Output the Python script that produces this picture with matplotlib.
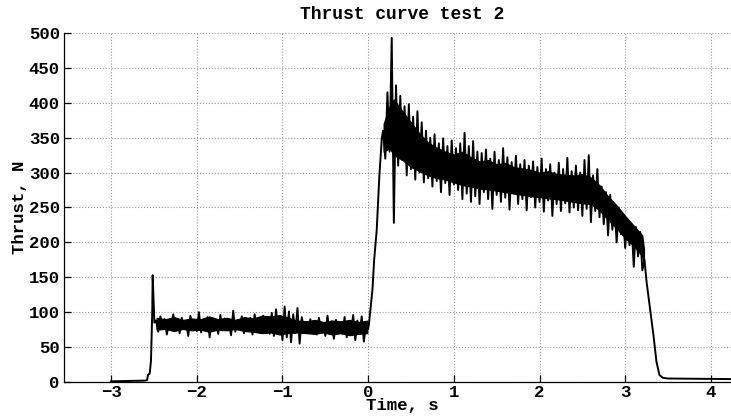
import numpy as np
import matplotlib
matplotlib.use("Agg")
import matplotlib.pyplot as plt

# ---- data ----
# pre-ignition and igniter spike
t_pre = [-3.0, -2.6, -2.58, -2.57, -2.55, -2.535, -2.52, -2.515, -2.505, -2.495]
f_pre = [1, 2, 3, 10, 12, 30, 100, 153, 120, 85]

# igniter phase (samples from -2.475 s to 0.0 s)
f_ign = [88, 72, 94, 76, 90, 68, 86, 79, 97, 74, 89, 70, 92, 77, 85, 66, 95, 78, 88, 73,
         100, 71, 87, 75, 93, 64, 90, 80, 86, 69, 96, 74, 91, 77, 84, 67, 102, 72, 89, 76,
         94, 70, 88, 79, 92, 68, 97, 75,
         90, 71, 95, 74, 86, 69, 99, 66, 104, 72, 92, 60, 108, 64, 101, 57, 97, 70, 106, 55, 93,
         78, 86, 70, 90, 73, 84, 68, 92, 75, 83, 66, 95, 71, 87, 62, 89, 74, 82, 69, 93,
         64, 86, 72, 96, 60, 88, 70, 94, 58, 83, 76]
t_ign_start, t_ign_end = -2.475, 0.0

# dense noise core of the igniter phase (upper / lower edge)
ign_core_top = [92, 90, 93, 89, 91, 90, 94, 90, 92, 89, 93, 91, 95, 94, 96, 92, 88, 87, 89, 86, 88, 87, 89, 86, 88]
ign_core_bot = [75, 76, 73, 76, 74, 75, 72, 75, 74, 76, 73, 72, 70, 71, 68, 70, 71, 70, 69, 71, 68, 70, 67, 69, 70]
t_ign_core_start, t_ign_core_end = -2.47, -0.01

# motor ignition rise
t_rise = [0.01, 0.05, 0.07, 0.10, 0.13, 0.16]
f_rise = [84, 132, 175, 218, 294, 350]

# main burn (samples from 0.175 s to 3.2 s)
f_burn = [360, 320, 415, 330, 493, 228, 425, 310, 410, 318,
          395, 296, 398, 305, 380, 290, 388, 300, 372, 286,
          360, 292, 350, 280, 355, 288, 342, 272, 349, 285,
          338, 268, 346, 283, 335, 275, 342, 262, 357, 270,
          338, 258, 345, 266, 330, 255, 328, 272, 333, 262,
          320, 248, 330, 268, 318, 258, 335, 264, 322, 247,
          315, 270, 324, 255, 312, 262, 318, 246, 310, 265,
          316, 250, 308, 258, 320, 244, 305, 260, 312, 238,
          300, 255, 314, 245, 305, 256, 321, 243, 302, 250,
          310, 246, 300, 238, 318, 248, 325, 229, 296, 245,
          305, 236, 280, 226, 272, 210, 268, 218, 255, 200,
          250, 212, 240, 192, 232, 196, 225, 165, 222, 180,
          215, 160]
t_burn_start, t_burn_end = 0.175, 3.2

# dense noise core of the main burn (upper / lower edge)
t_burn_core = [0.18, 0.25, 0.3, 0.4, 0.5, 0.6, 0.7, 0.8, 0.9, 1.0, 1.1, 1.2, 1.3, 1.4, 1.5, 1.6,
               1.7, 1.8, 1.9, 2.0, 2.1, 2.2, 2.3, 2.4, 2.5, 2.6, 2.7, 2.8, 2.9, 3.0, 3.1, 3.2, 3.22]
burn_core_top = [370, 395, 405, 388, 372, 356, 343, 336, 330, 326, 330, 322, 316, 318, 312, 314,
                 308, 306, 304, 300, 302, 298, 297, 296, 298, 293, 282, 266, 253, 238, 224, 210, 190]
burn_core_bot = [330, 335, 325, 318, 308, 302, 296, 292, 290, 286, 282, 280, 277, 276, 274, 272,
                 270, 268, 266, 265, 263, 262, 260, 258, 256, 255, 246, 232, 220, 206, 195, 180, 170]

# tail-off and residual
t_tail = [3.225, 3.25, 3.29, 3.33, 3.365, 3.40, 3.44, 3.5, 4.4]
f_tail = [175, 143, 105, 67, 29, 10, 6, 5, 4]

x_ticks = [-3, -2, -1, 0, 1, 2, 3, 4]
y_ticks = [0, 50, 100, 150, 200, 250, 300, 350, 400, 450, 500]

# ---- assemble ----
t = np.concatenate([t_pre,
                    np.linspace(t_ign_start, t_ign_end, len(f_ign)),
                    t_rise,
                    np.linspace(t_burn_start, t_burn_end, len(f_burn)),
                    t_tail])
f = np.concatenate([f_pre, f_ign, f_rise, f_burn, f_tail])
t_ign_core = np.linspace(t_ign_core_start, t_ign_core_end, len(ign_core_top))

plt.rcParams['font.family'] = ['Liberation Mono', 'DejaVu Sans Mono']
plt.rcParams['font.weight'] = 'bold'

fig = plt.figure(figsize=(7.31, 4.17), dpi=100)
W, H = 731, 417
ax = fig.add_axes([64 / W, (H - 382) / H, (740 - 64) / W, (382 - 33) / H])

ax.fill_between(t_ign_core, ign_core_bot, ign_core_top, color='black', linewidth=0.8)
ax.fill_between(t_burn_core, burn_core_bot, burn_core_top, color='black', linewidth=0.8)
ax.plot(t, f, color='black', linewidth=1.4)

ax.set_xlim(-3.55, 4.34)
ax.set_ylim(0, 500)
ax.set_xticks(x_ticks)
ax.set_yticks(y_ticks)

ax.grid(True, linestyle=':', color='#9a9a9a', linewidth=0.8)
ax.set_axisbelow(True)
for s in ['top', 'right']:
    ax.spines[s].set_visible(False)
for s in ['left', 'bottom']:
    ax.spines[s].set_linewidth(0.9)
    ax.spines[s].set_color('black')

ax.tick_params(direction='in', length=5, width=0.9, labelsize=12.5, pad=3)
ax.tick_params(axis='x', pad=2)
for lab in ax.get_xticklabels() + ax.get_yticklabels():
    lab.set_fontweight('bold')

ax.set_title('Thrust curve test 2', fontsize=13, fontweight='bold', pad=10)
ax.set_xlabel('Time, s', fontsize=12.5, fontweight='bold', labelpad=-1)
ax.set_ylabel('Thrust, N', fontsize=12.5, fontweight='bold', labelpad=1)

fig.savefig('out.png', dpi=100)
